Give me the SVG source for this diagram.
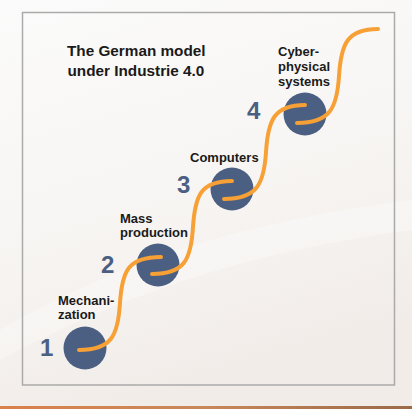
<svg xmlns="http://www.w3.org/2000/svg" width="412" height="409" viewBox="0 0 412 409">
<defs>
<linearGradient id="bg" x1="0" y1="0" x2="0.3" y2="1">
<stop offset="0" stop-color="#fbfbfb"/>
<stop offset="0.5" stop-color="#f8f6f4"/>
<stop offset="1" stop-color="#f1ece8"/>
</linearGradient>
<linearGradient id="strip" x1="0" y1="0" x2="1" y2="0">
<stop offset="0" stop-color="#d9814a"/>
<stop offset="0.5" stop-color="#c8875a"/>
<stop offset="1" stop-color="#9a6a48"/>
</linearGradient>
<style>
.node circle{fill:#4b5f83}
.num{font-family:"Liberation Sans",Arial,sans-serif;font-weight:bold;font-size:24px;fill:#4b5f83}
.lbl{font-family:"Liberation Sans",Arial,sans-serif;font-weight:bold;font-size:13px;fill:#1a1a1a}
.title{font-family:"Liberation Sans",Arial,sans-serif;font-weight:bold;font-size:15.3px;fill:#1a1a1a}
.wave{fill:none;stroke:#f7a035;stroke-width:4;stroke-linecap:round}
</style>
</defs>
<rect x="0" y="0" width="412" height="409" fill="url(#bg)"/>
<path d="M0 330 C120 260 250 220 412 200 L412 230 C260 250 130 290 0 360 Z" fill="#ffffff" opacity="0.3"/>
<rect x="0" y="406" width="412" height="3" fill="url(#strip)"/>
<rect x="22.5" y="12.5" width="372" height="372.5" fill="none" stroke="#aaaaaa" stroke-width="1.5"/>
<g id="title">
<text class="title" x="67" y="56">The German model</text>
<text class="title" x="67.5" y="76">under Industrie 4.0</text>
</g>
<g id="node1" class="node">
<circle cx="85" cy="348" r="21.5"/>
<text class="num" x="40" y="356">1</text>
<text class="lbl" x="58" y="305">Mechani-</text>
<text class="lbl" x="58" y="319">zation</text>
</g>
<g id="node2" class="node">
<circle cx="158" cy="265" r="21.5"/>
<text class="num" x="101" y="273">2</text>
<text class="lbl" x="120" y="223">Mass</text>
<text class="lbl" x="120" y="237">production</text>
</g>
<g id="node3" class="node">
<circle cx="232" cy="189" r="21.5"/>
<text class="num" x="177" y="193">3</text>
<text class="lbl" x="190" y="162">Computers</text>
</g>
<g id="node4" class="node">
<circle cx="305" cy="114" r="21.5"/>
<text class="num" x="247" y="119">4</text>
<text class="lbl" x="278" y="56">Cyber-</text>
<text class="lbl" x="278" y="71">physical</text>
<text class="lbl" x="278" y="86">systems</text>
</g>
<g id="connectors">
<path class="wave" d="M79 350 C112 350 118 335 120 303 C122 271 128 257 161 257"/>
<path class="wave" d="M152 274 C185 274 191 259 193 227 C195 195 201 181 232 181"/>
<path class="wave" d="M224 199 C257 199 264 184 266 152 C268 120 274 105 305 105"/>
<path class="wave" d="M297 123 C330 123 337 108 339 76 C341 44 347 29 378 29"/>
</g>
</svg>
